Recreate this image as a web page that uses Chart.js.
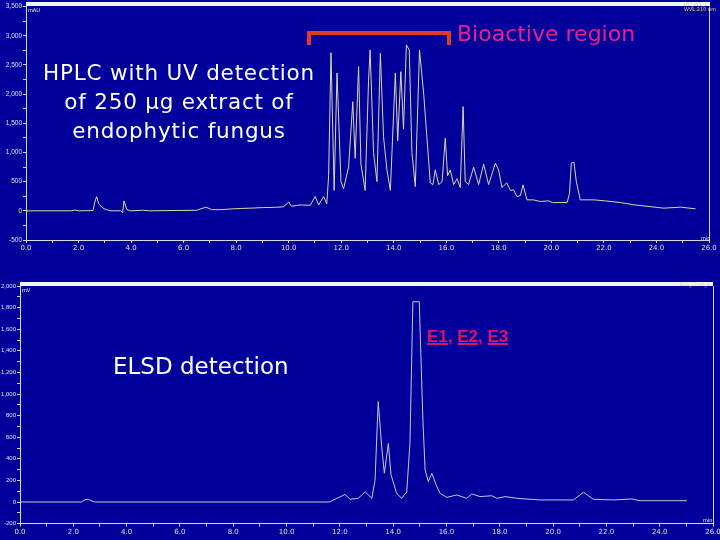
<!DOCTYPE html>
<html>
<head>
<meta charset="utf-8">
<script src="https://cdn.jsdelivr.net/npm/chart.js@4/dist/chart.umd.min.js"></script>
<style>
  html, body { margin: 0; padding: 0; width: 720px; height: 540px; overflow: hidden; background: #00009a; }
  .wrap { position: absolute; left: 0; }
  #uvWrap   { top: 0;     width: 740px; height: 262px; }
  #elsdWrap { top: 262px; width: 740px; height: 278px; }
  .bar { position: absolute; height: 4px; background: #f4f4f4; }
  .tiny { position: absolute; font: 5px 'DejaVu Sans', sans-serif; color: #e8d870; white-space: nowrap; }
  .note { position: absolute; font-family: 'DejaVu Sans', sans-serif; color: #fff; white-space: nowrap; }
  #uvTitle { left: 36px; top: 58px; width: 286px; font-size: 21.5px; line-height: 29px; text-align: center; letter-spacing: 0.8px; }
  #bioText { left: 457px; top: 21px; font-size: 22px; color: #e8208c; }
  #bracket { position: absolute; left: 307px; top: 31px; width: 136px; height: 10px;
             border: 4px solid #e03a28; border-bottom: none; }
  #elsdText { left: 113px; top: 353px; font-size: 23px; }
  #peaks { left: 427px; top: 327px; font: bold 17px 'Liberation Sans', Arial, sans-serif; color: #e0106a; }
  #peaks u { text-decoration-thickness: 2px; }
</style>
</head>
<body>

<div class="wrap" id="uvWrap"><canvas id="uvChart" width="740" height="262"></canvas></div>
<div class="wrap" id="elsdWrap"><canvas id="elsdChart" width="740" height="278"></canvas></div>

<!-- header strips over each plot -->
<div class="bar" style="left:26px; top:2px; width:684px;"></div>
<div class="bar" style="left:20px; top:282px; width:693px;"></div>
<div class="tiny" style="left:684px; top:1px;">UV_VIS_1</div>
<div class="tiny" style="left:684px; top:6px;">WVL:210 nm</div>
<div class="tiny" style="left:28px; top:7px; color:#fff;">mAU</div>
<div class="tiny" style="left:22px; top:287px; color:#fff;">mV</div>
<div class="tiny" style="left:680px; top:281px;">ELS_Chan_1</div>
<div class="tiny" style="left:701px; top:235px; color:#fff;">min</div>
<div class="tiny" style="left:703px; top:517px; color:#fff;">min</div>

<div class="note" id="uvTitle">HPLC with UV detection<br>of 250 µg extract of<br>endophytic fungus</div>
<div id="bracket"></div>
<div class="note" id="bioText">Bioactive region</div>
<div class="note" id="elsdText">ELSD detection</div>
<div class="note" id="peaks"><u>E1</u>, <u>E2</u>, <u>E3</u></div>

<script>
/* ── Data ───────────────────────────────────────────────────── */
// HPLC-UV trace (min, mAU)
const uvTime = [
  0, 1.7, 1.86, 2.0, 2.55, 2.62, 2.69, 2.76, 2.82, 2.97,
  3.1, 3.2, 3.6, 3.68, 3.73, 3.84, 3.96, 4.47, 4.7, 6.5,
  6.85, 7.07, 7.4, 7.9, 8.15, 8.5, 9.0, 9.5, 9.8, 10.0,
  10.1, 10.3, 10.44, 10.82, 11.01, 11.14, 11.33, 11.45, 11.52, 11.61,
  11.73, 11.84, 11.99, 12.09, 12.28, 12.44, 12.53, 12.66, 12.75, 12.91,
  13.04, 13.1, 13.23, 13.36, 13.49, 13.61, 13.74, 13.87, 14.06, 14.15,
  14.27, 14.37, 14.48, 14.59, 14.69, 14.82, 14.98, 15.14, 15.26, 15.39,
  15.49, 15.58, 15.71, 15.84, 15.96, 16.05, 16.15, 16.28, 16.41, 16.53,
  16.64, 16.72, 16.85, 17.04, 17.23, 17.42, 17.61, 17.87, 17.99, 18.12,
  18.3, 18.44, 18.56, 18.69, 18.82, 18.92, 19.07, 19.31, 19.58, 19.9,
  20.04, 20.6, 20.69, 20.76, 20.86, 20.95, 21.1, 21.61, 22.06, 22.63,
  23.14, 24.28, 24.91, 25.49
];
const uvSignal = [
  0, 0, 12, 0, 5, 150, 245, 130, 90, 35,
  15, 0, 0, -30, 170, 20, 0, 10, 0, 10,
  63, 20, 20, 35, 40, 45, 55, 60, 70, 150,
  80, 90, 100, 95, 245, 100, 245, 120, 600, 2711,
  350, 2363, 500, 380, 750, 1870, 900, 2470, 800, 350,
  2240, 2757, 1000, 500, 2700, 1272, 700, 350, 2363, 1200,
  2385, 1400, 2842, 2757, 1000, 416, 2757, 2000, 1272, 479,
  450, 702, 450, 500, 1245, 600, 700, 450, 550, 400,
  1786, 500, 450, 750, 450, 800, 450, 816, 700, 400,
  479, 350, 360, 245, 260, 445, 188, 188, 160, 171,
  140, 142, 300, 820, 834, 500, 188, 188, 170, 142,
  103, 46, 63, 34
];

// ELSD trace (min, mV)
const elsdTime = [
  0, 2.3, 2.44, 2.56, 2.7, 2.81, 11.6, 12.2, 12.38, 12.69,
  12.95, 13.2, 13.32, 13.44, 13.57, 13.67, 13.82, 13.92, 14.13, 14.32,
  14.51, 14.63, 14.74, 14.98, 15.08, 15.12, 15.2, 15.32, 15.45, 15.64,
  15.76, 16.01, 16.39, 16.76, 16.95, 17.26, 17.7, 17.89, 18.2, 18.64,
  19.51, 20.76, 21.14, 21.51, 22.26, 22.95, 23.26, 25.02
];
const elsdSignal = [
  0, 0, 20, 25, 10, 0, 0, 70, 25, 34,
  95, 34, 200, 929, 512, 266, 543, 253, 80, 34,
  95, 543, 1854, 1854, 1037, 731, 296, 188, 266, 142,
  80, 43, 65, 34, 74, 50, 58, 34, 50, 34,
  19, 19, 90, 25, 19, 28, 12, 12
];

// axis ranges / tick steps
const timeRange = [0, 26];
const uvRange   = [-500, 3500];
const elsdRange = [-200, 2000];

/* ── Helpers ────────────────────────────────────────────────── */
const AXIS = '#d8d8e4';

function toPoints(xs, ys) {
  return xs.map((x, i) => ({ x: x, y: ys[i] }));
}

function timeAxis(h) {
  return {
    type: 'linear', min: timeRange[0], max: timeRange[1],
    border: { color: AXIS, width: 1 },
    grid: { drawOnChartArea: false, tickLength: 3, color: AXIS },
    ticks: {
      stepSize: 1, autoSkip: false, maxRotation: 0, padding: 1,
      color: '#e8e0b0', font: { size: 7, family: "'DejaVu Sans', sans-serif" },
      callback: v => (v % 2 === 0 ? v.toFixed(1) : '')
    },
    afterFit: s => { s.height = h; }
  };
}

function signalAxis(range, step, every, w, size) {
  return {
    type: 'linear', min: range[0], max: range[1],
    border: { color: AXIS, width: 1 },
    grid: { drawOnChartArea: false, tickLength: 3, color: AXIS },
    ticks: {
      stepSize: step, autoSkip: false, padding: 1,
      color: '#e0e0e8', font: { size: size, family: "'Liberation Sans', sans-serif" },
      callback: v => (v % every === 0 ? v.toLocaleString('en-US') : '')
    },
    afterFit: s => { s.width = w; }
  };
}

// right-hand frame line of each plot
const rightEdge = {
  id: 'rightEdge',
  afterDraw(chart) {
    const { ctx, chartArea: a } = chart;
    ctx.save();
    ctx.strokeStyle = AXIS;
    ctx.lineWidth = 1;
    ctx.beginPath();
    ctx.moveTo(a.right + 0.5, a.top);
    ctx.lineTo(a.right + 0.5, a.bottom);
    ctx.stroke();
    ctx.restore();
  }
};

function makeChart(id, pts, color, xAxis, yAxis, pad) {
  return new Chart(document.getElementById(id), {
    type: 'line',
    data: {
      datasets: [{
        data: pts,
        borderColor: color,
        borderWidth: 1,
        pointRadius: 0,
        tension: 0,
        fill: false
      }]
    },
    options: {
      responsive: false,
      animation: false,
      layout: { padding: pad },
      plugins: { legend: { display: false }, tooltip: { enabled: false } },
      scales: { x: xAxis, y: yAxis }
    },
    plugins: [rightEdge]
  });
}

/* ── Charts ─────────────────────────────────────────────────── */
makeChart('uvChart', toPoints(uvTime, uvSignal), '#ddd6a8',
  timeAxis(22), signalAxis(uvRange, 250, 500, 26, 6.5),
  { left: 0, right: 31, top: 6.6, bottom: 0 });

makeChart('elsdChart', toPoints(elsdTime, elsdSignal), '#c8c8dc',
  timeAxis(16.4), signalAxis(elsdRange, 100, 200, 20, 6),
  { left: 0, right: 27, top: 24, bottom: 0 });
</script>
</body>
</html>
